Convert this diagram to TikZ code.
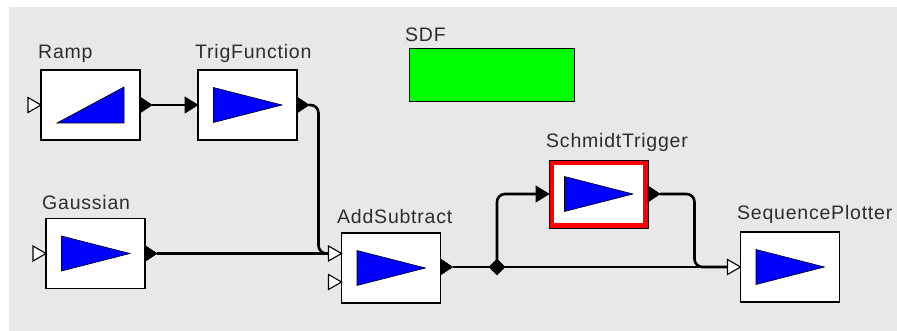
\documentclass[tikz,border=0pt]{standalone}
\usepackage{fontspec}
\setmainfont{Liberation Sans}[LetterSpace=4]
\usetikzlibrary{shapes.geometric}
\definecolor{canvas}{RGB}{232,232,232}
\definecolor{lbltext}{RGB}{45,45,45}

\begin{document}
\begin{tikzpicture}[
  x=1pt, y=-1pt,
  actor/.style={draw=black, fill=white, line width=1.3pt, outer sep=0pt, inner sep=0pt,
    minimum width=99pt, minimum height=70pt},
  lbl/.style={anchor=base west, inner sep=0pt, text=lbltext, font=\fontsize{19.5}{22}\selectfont},
  icon/.style={fill=blue, draw=black, line width=0.6pt},
  wire/.style={draw, line width=2.6pt, rounded corners=8pt},
  port/.style={fill=black, draw=black, line width=0.6pt},
  mport/.style={fill=white, draw=black, line width=1.1pt},
  relation/.style={diamond, fill=black, inner sep=0pt, minimum size=17pt}
]
\useasboundingbox (0,0) rectangle (897,331);
\fill[canvas] (9,7) rectangle (897,331);

% director
\node[draw=black, fill=green, line width=1pt, minimum width=165pt, minimum height=53pt] (sdf) at (491.5,75.5) {};
\node[lbl] at (405,42) {SDF};

% actors
\node[actor] (ramp) at (90.5,105) {};
\node[actor] (trig) at (247.5,105) {};
\node[actor] (gauss) at (95.5,253.5) {};
\node[actor] (addsub) at (391,268) {};
\node[actor, draw=red, line width=5pt, minimum width=94pt, minimum height=63pt] (schmidt) at (598.5,194) {};
\draw[line width=0.8pt] ([shift={(-2.5,-2.5)}]schmidt.north west) rectangle ([shift={(2.5,2.5)}]schmidt.south east);
\node[actor] (plotter) at (790,267) {};

\node[lbl] at (38,59) {Ramp};
\node[lbl] at (195,59) {TrigFunction};
\node[lbl] at (42,210) {Gaussian};
\node[lbl] at (337,224) {AddSubtract};
\node[lbl] at (546,148) {SchmidtTrigger};
\node[lbl] at (737,220) {SequencePlotter};

% icons
\filldraw[icon] ([shift={(-33.5,18)}]ramp.center) -- ([shift={(33.5,-18)}]ramp.center)
  -- ([shift={(33.5,18)}]ramp.center) -- cycle;
\foreach \n in {trig,gauss,addsub,schmidt,plotter}
  \filldraw[icon] ([shift={(-34,-17.5)}]\n.center) -- ([shift={(34.5,0)}]\n.center)
    -- ([shift={(-34,17.5)}]\n.center) -- cycle;

% ports
\coordinate (ramp-i) at ([shift={(-13,0)}]ramp.west);
\coordinate (ramp-o) at ([shift={(12,0)}]ramp.east);
\coordinate (trig-i) at ([shift={(-13,0)}]trig.west);
\coordinate (trig-o) at ([shift={(12,0)}]trig.east);
\coordinate (gauss-i) at ([shift={(-13,0)}]gauss.west);
\coordinate (gauss-o) at ([shift={(12,0)}]gauss.east);
\coordinate (addsub-i1) at ([shift={(-13,-14.5)}]addsub.west);
\coordinate (addsub-i2) at ([shift={(-13,14)}]addsub.west);
\coordinate (addsub-o) at ([shift={(12,-1)}]addsub.east);
\coordinate (schmidt-i) at ([shift={(-15.5,0)}]schmidt.west);
\coordinate (schmidt-o) at ([shift={(14.5,0)}]schmidt.east);
\coordinate (plotter-i) at ([shift={(-13,0)}]plotter.west);

% connections
\draw[wire] (ramp-o) -- (trig-i);
\draw[wire] (gauss-o) -- (addsub-i1);
\draw[wire] (trig-o) -| ([shift={(-10,0)}]addsub-i1) -- (addsub-i1);
\draw[wire] (addsub-o) -- (plotter-i);
\node[relation] (rel) at (497,267) {};
\draw[wire] (rel.center) |- (schmidt-i);
\draw[wire] (schmidt-o) -| ([shift={(-33,0)}]plotter-i) -- (plotter-i);

\foreach \p in {ramp-o,trig-o,gauss-o,addsub-o,schmidt-o}
  \filldraw[port] (\p) -- ([shift={(-12,-8)}]\p) -- ([shift={(-12,8)}]\p) -- cycle;
\foreach \p in {trig-i,schmidt-i}
  \filldraw[port] ([shift={(0,-8)}]\p) -- ([shift={(13,0)}]\p) -- ([shift={(0,8)}]\p) -- cycle;
\foreach \p in {ramp-i,gauss-i,addsub-i1,addsub-i2,plotter-i}
  \filldraw[mport] ([shift={(0,-7.5)}]\p) -- ([shift={(13,0)}]\p) -- ([shift={(0,7.5)}]\p) -- cycle;
\end{tikzpicture}
\end{document}
